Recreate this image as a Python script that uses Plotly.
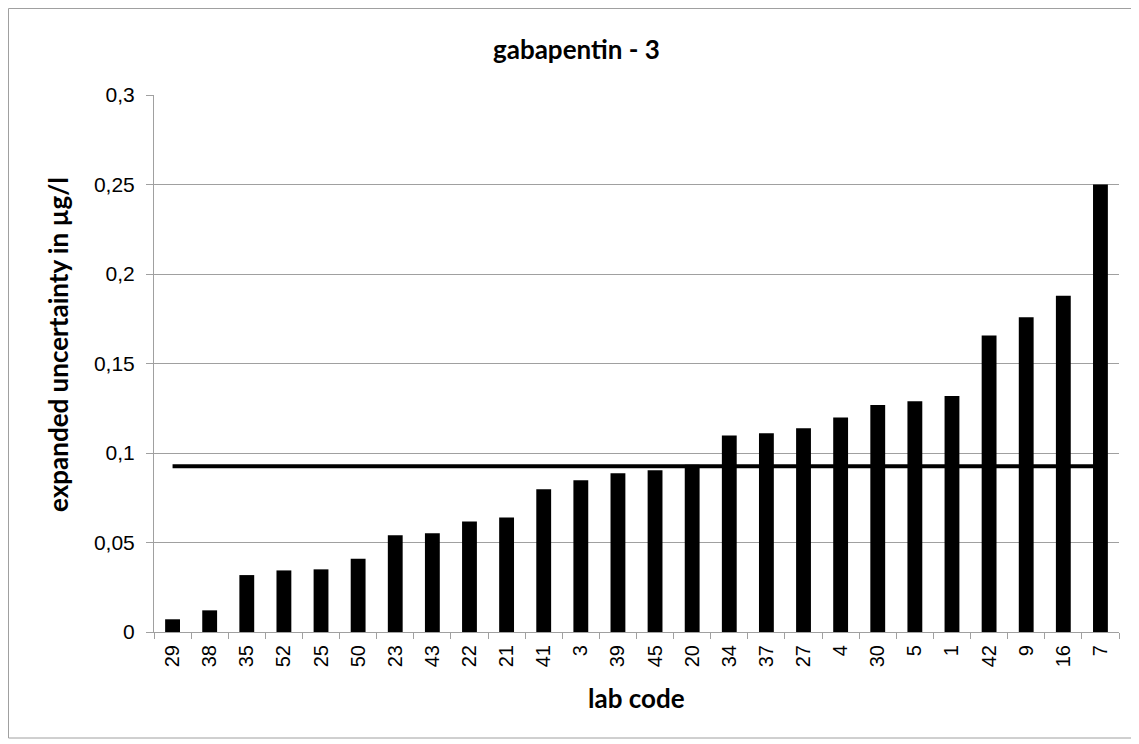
import plotly.graph_objects as go

labs = ["29", "38", "35", "52", "25", "50", "23", "43", "22", "21", "41", "3", "39",
        "45", "20", "34", "37", "27", "4", "30", "5", "1", "42", "9", "16", "7"]
uncertainty = [0.0071, 0.0121, 0.0318, 0.0344, 0.035, 0.0409, 0.054, 0.0551, 0.0618,
               0.064, 0.0798, 0.0848, 0.0887, 0.0904, 0.0935, 0.1098, 0.111, 0.1138,
               0.1198, 0.1268, 0.1289, 0.1319, 0.1657, 0.1758, 0.1879, 0.25]
reference_value = 0.0926
y_ticks = [0, 0.05, 0.1, 0.15, 0.2, 0.25, 0.3]
y_tick_text = ["0", "0,05", "0,1", "0,15", "0,2", "0,25", "0,3"]

# page offset (browser body margin) compensation
OFF = 8
W, H = 1139 - OFF, 744 - OFF
# plot area in reference page pixels
PX0, PX1, PY0, PY1 = 154, 1119, 95, 632
L, R, T, B = PX0 - OFF, 1139 - PX1, PY0 - OFF, 744 - PY1

def px_x(p):
    return (p - PX0) / (PX1 - PX0)

def px_y(p):
    return (PY1 - p) / (PY1 - PY0)

fig = go.Figure()
fig.add_trace(go.Bar(x=labs, y=uncertainty, marker=dict(color="black", line=dict(width=0)),
                     showlegend=False))
fig.add_trace(go.Scatter(x=labs, y=[reference_value] * len(labs), mode="lines",
                         line=dict(color="black", width=4), showlegend=False))

title_font = dict(family="Lato, Open Sans, sans-serif", size=26, color="black")

fig.update_layout(
    width=W, height=H,
    margin=dict(l=L, r=R, t=T, b=B),
    paper_bgcolor="white", plot_bgcolor="white",
    bargap=0.6,
    xaxis=dict(type="category", tickangle=-90, ticks="outside", tickson="boundaries",
               ticklen=6, tickcolor="#a0a0a0", showline=True, linecolor="#a0a0a0",
               linewidth=1, showgrid=False, ticklabelstandoff=4,
               tickfont=dict(family="Liberation Sans, Arial, sans-serif", size=20, color="black")),
    yaxis=dict(range=[0, 0.3], tickvals=y_ticks, ticktext=y_tick_text, ticks="outside",
               ticklen=7, tickcolor="#a0a0a0", showline=True, linecolor="#a0a0a0",
               linewidth=1, showgrid=True, gridcolor="#a0a0a0", gridwidth=1,
               zeroline=False, ticklabelstandoff=7,
               tickfont=dict(family="Liberation Sans, Arial, sans-serif", size=21, color="black")),
    annotations=[
        dict(text="<b>gabapentin - 3</b>", xref="paper", yref="paper", x=px_x(576), y=px_y(49),
             showarrow=False, xanchor="center", yanchor="middle", font=title_font),
        dict(text="<b>lab code</b>", xref="paper", yref="paper", x=px_x(636), y=px_y(698),
             showarrow=False, xanchor="center", yanchor="middle", font=title_font),
        dict(text="<b>expanded uncertainty in µg/l</b>", xref="paper", yref="paper",
             x=px_x(58), y=px_y(345), textangle=-90, showarrow=False,
             xanchor="center", yanchor="middle", font=title_font),
    ],
    shapes=[dict(type="rect", xref="paper", yref="paper",
                 x0=px_x(OFF + 0.5), x1=px_x(1133), y0=px_y(738), y1=px_y(OFF + 0.5),
                 line=dict(color="#a0a0a0", width=1), layer="below")],
)

fig.write_html("out.html")
